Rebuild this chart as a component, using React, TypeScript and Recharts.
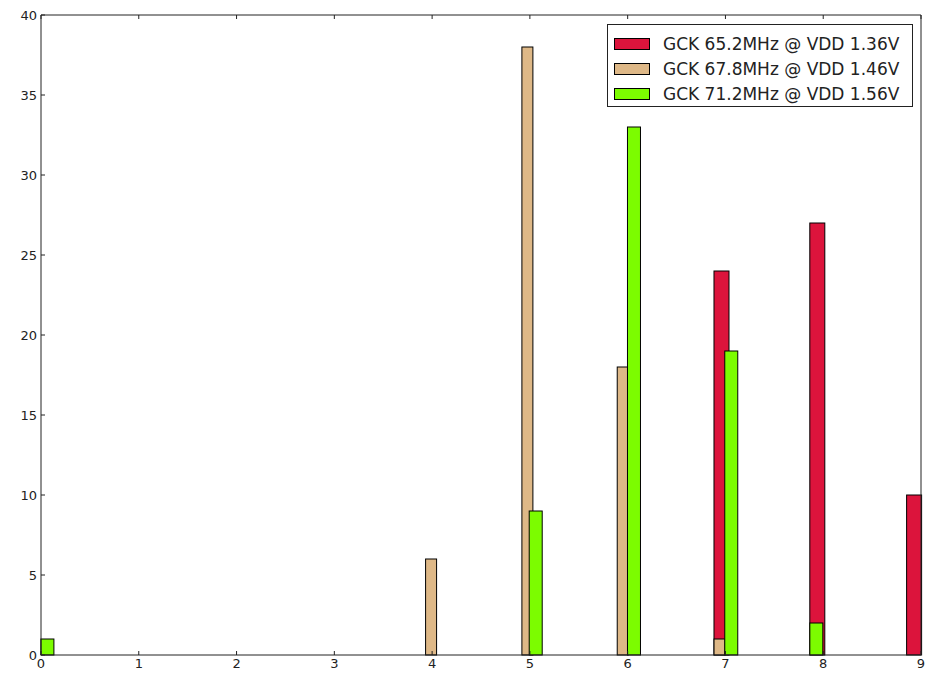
import React from 'react';
import { BarChart, Bar, XAxis, YAxis, Legend } from 'recharts';

// bin centres (x units) and counts for each clock setting
const redCenters = [6.96, 7.94, 8.93];
const redCounts = [24, 27, 10];
const tanCenters = [3.99, 4.975, 5.95, 6.94];
const tanCounts = [6, 38, 18, 1];
const greenCenters = [0.066, 5.06, 6.065, 7.06, 7.93];
const greenCounts = [1, 9, 33, 19, 2];

const seriesNames = [
  'GCK 65.2MHz @ VDD 1.36V',
  'GCK 67.8MHz @ VDD 1.46V',
  'GCK 71.2MHz @ VDD 1.56V',
];

const xTicks = [0, 1, 2, 3, 4, 5, 6, 7, 8, 9];
const yTicks = [0, 5, 10, 15, 20, 25, 30, 35, 40];

const series = [
  { key: 'red', name: seriesNames[0], fill: '#DC143C', barPx: 15, centers: redCenters, counts: redCounts },
  { key: 'tan', name: seriesNames[1], fill: '#DEB887', barPx: 11, centers: tanCenters, counts: tanCounts },
  { key: 'green', name: seriesNames[2], fill: '#7CFC00', barPx: 13, centers: greenCenters, counts: greenCounts },
];

// one row per drawn bar; the other series keys stay empty on that row
const rows = series.flatMap((s) =>
  s.centers.map((x, i) => ({ x, [s.key]: s.counts[i] }))
);

const FONT = '"DejaVu Sans", sans-serif';
const INK = '#222';

// re-centre the rect on its x value and give it the series' own width
const binShape = (barPx: number) => (props: any) => {
  const { x, y, width, height, fill } = props;
  if (!height || height <= 0 || !isFinite(x)) return <g />;
  const cx = x + width / 2;
  return (
    <rect
      x={cx - barPx / 2}
      y={y}
      width={barPx}
      height={height}
      fill={fill}
      stroke="#000"
      strokeWidth={1}
    />
  );
};

// frame axes on top/right: tick marks only, no labels
const noLabel = () => <g />;

const LegendBox = (props: any) => {
  const payload = props.payload || [];
  return (
    <div
      style={{
        border: `1px solid ${INK}`,
        background: '#fff',
        padding: '6px 6px 4px 6px',
        fontFamily: FONT,
        fontSize: 17,
        color: INK,
        boxSizing: 'border-box',
        width: 306,
        height: 83,
      }}
    >
      {payload.map((entry: any) => (
        <div key={entry.value} style={{ display: 'flex', alignItems: 'center', height: 25 }}>
          <span
            style={{
              display: 'inline-block',
              width: 36,
              height: 12,
              background: entry.color,
              border: '1px solid #000',
              boxSizing: 'border-box',
              marginRight: 13,
            }}
          />
          <span>{entry.value}</span>
        </div>
      ))}
    </div>
  );
};

export default function App() {
  return (
    <div style={{ position: 'absolute', left: 0, top: 0, background: '#fff' }}>
      <BarChart
        width={929}
        height={674}
        data={rows}
        margin={{ top: 14, right: 7, bottom: 0, left: 0 }}
        style={{ fontFamily: FONT }}
      >
        <XAxis
          dataKey="x"
          type="number"
          domain={[0, 9]}
          ticks={xTicks}
          height={19}
          tickSize={-4}
          tickMargin={8}
          axisLine={{ stroke: INK }}
          tickLine={{ stroke: INK }}
          tick={{ fill: INK, fontSize: 13 }}
        />
        <XAxis
          xAxisId="top"
          orientation="top"
          dataKey="x"
          type="number"
          domain={[0, 9]}
          ticks={xTicks}
          height={1}
          tickSize={-4}
          tick={noLabel}
          axisLine={{ stroke: INK }}
          tickLine={{ stroke: INK }}
        />
        <YAxis
          type="number"
          domain={[0, 40]}
          ticks={yTicks}
          width={41}
          tickSize={-4}
          tickMargin={8}
          axisLine={{ stroke: INK }}
          tickLine={{ stroke: INK }}
          tick={{ fill: INK, fontSize: 13 }}
        />
        <YAxis
          yAxisId="right"
          orientation="right"
          type="number"
          domain={[0, 40]}
          ticks={yTicks}
          width={1}
          tickSize={-4}
          tick={noLabel}
          axisLine={{ stroke: INK }}
          tickLine={{ stroke: INK }}
        />
        <Legend
          layout="vertical"
          align="center"
          verticalAlign="middle"
          content={<LegendBox />}
          wrapperStyle={{ top: 24, left: 607, width: 306, height: 83 }}
        />
        {series.map((s) => (
          <Bar
            key={s.key}
            dataKey={s.key}
            name={s.name}
            fill={s.fill}
            stackId="bins"
            barSize={1}
            isAnimationActive={false}
            shape={binShape(s.barPx)}
          />
        ))}
      </BarChart>
    </div>
  );
}
